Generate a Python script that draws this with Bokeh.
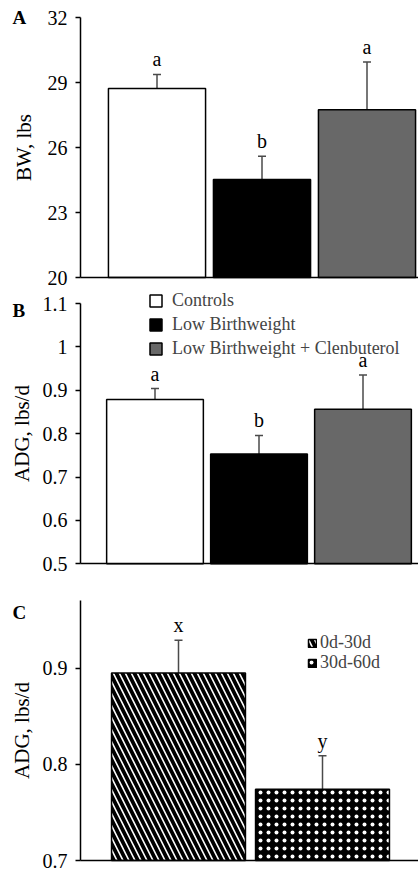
from bokeh.plotting import figure
from bokeh.models import (ColumnDataSource, Whisker, TeeHead, Label, Legend,
                          LegendItem, FixedTicker, Range1d, LinearAxis)
from bokeh.layouts import column
from bokeh.embed import file_html
from bokeh.resources import INLINE
from bokeh.core.properties import value

# ---------------- data ----------------
groups = ["Controls", "Low Birthweight", "Low Birthweight + Clenbuterol"]
group_colors = ["#ffffff", "#000000", "#686868"]

bw_mean = [28.72, 24.52, 27.74]
bw_err = [0.65, 1.08, 2.21]
bw_letters = ["a", "b", "a"]
bw_ticks = [20, 23, 26, 29, 32]
bw_tick_labels = ["20", "23", "26", "29", "32"]

adg_mean = [0.879, 0.753, 0.856]
adg_err = [0.025, 0.043, 0.079]
adg_letters = ["a", "b", "a"]
adg_ticks = [0.5, 0.6, 0.7, 0.8, 0.9, 1.0, 1.1]
adg_tick_labels = ["0.5", "0.6", "0.7", "0.8", "0.9", "1", "1.1"]

periods = ["0d-30d", "30d-60d"]
per_mean = [0.895, 0.774]
per_err = [0.034, 0.035]
per_letters = ["x", "y"]
per_ticks = [0.7, 0.8, 0.9]
per_tick_labels = ["0.7", "0.8", "0.9"]

FONT = "Liberation Serif"
W = 418
AXIS_PX = 80  # pixel column of the y axis


def make_fig(h, ymin, ymax, ytop_px, ybot_px, x1_px, px_per_x):
    """Frame covers the whole canvas; ranges chosen so that ymax sits at ytop_px,
    ymin at ybot_px and x=1 at x1_px."""
    ppu = (ybot_px - ytop_px) / (ymax - ymin)
    y_start = ymin - (h - ybot_px) / ppu
    y_end = ymax + ytop_px / ppu
    x_start = 1 - x1_px / px_per_x
    x_end = 1 + (W - x1_px) / px_per_x
    x_axis = 1 - (x1_px - AXIS_PX) / px_per_x
    p = figure(width=W, height=h, output_backend="svg", toolbar_location=None,
               x_range=Range1d(x_start, x_end), y_range=Range1d(y_start, y_end),
               x_axis_type=None, y_axis_type=None,
               min_border_left=0, min_border_right=0, min_border_top=0, min_border_bottom=0)
    p.outline_line_color = None
    return p, x_axis, x_end, ppu


def add_axes(p, x_axis, x_end, ymin, ymax, ticks, labels, label, label_standoff):
    ax = LinearAxis(fixed_location=x_axis, bounds=(ymin, ymax))
    ax.ticker = FixedTicker(ticks=ticks, minor_ticks=[])
    ax.major_label_overrides = {t: l for t, l in zip(ticks, labels)}
    ax.major_label_text_font = FONT
    ax.major_label_text_font_size = "20px"
    ax.major_label_text_color = "black"
    ax.major_label_standoff = 8
    ax.major_tick_out = 5
    ax.major_tick_in = 0
    ax.major_tick_line_width = 1.5
    ax.major_tick_line_color = "black"
    ax.minor_tick_line_color = None
    ax.axis_line_width = 1.5
    ax.axis_line_color = "black"
    ax.axis_label = label
    ax.axis_label_text_font = FONT
    ax.axis_label_text_font_style = "normal"
    ax.axis_label_text_font_size = "21px"
    ax.axis_label_text_color = "black"
    ax.axis_label_standoff = label_standoff
    p.add_layout(ax, "left")
    bx = LinearAxis(fixed_location=ymin, bounds=(x_axis, x_end))
    bx.ticker = FixedTicker(ticks=[], minor_ticks=[])
    bx.major_tick_line_color = None
    bx.minor_tick_line_color = None
    bx.axis_line_width = 1.5
    bx.axis_line_color = "black"
    bx.major_label_text_font_size = "0px"
    p.add_layout(bx, "below")


def err_and_letters(p, xs, means, errs, letters):
    src = ColumnDataSource(dict(x=xs, top=means, up=[m + e for m, e in zip(means, errs)],
                                lab=letters))
    w = Whisker(source=src, base="x", lower="top", upper="up", dimension="height",
                line_color="#4a4a4a", line_width=1.5,
                upper_head=TeeHead(size=8, line_color="#4a4a4a", line_width=1.5),
                lower_head=None)
    p.add_layout(w)
    p.text(x="x", y="up", text="lab", source=src, text_font=value(FONT),
           text_font_size="20px", text_align="center", text_baseline="alphabetic",
           y_offset=-15, text_color="black")


def panel_letter(p, x_axis, y, t):
    p.add_layout(Label(x=x_axis, y=y, x_offset=-68, text=t, text_font=FONT,
                       text_font_style="bold", text_font_size="19px",
                       text_baseline="middle", text_align="left", text_color="black"))


xs3 = [1, 2, 3]
xs2 = [1, 2]

# ---------------- Panel A ----------------
hA = 289
pA, axA, xeA, ppuA = make_fig(hA, 20, 32, 17, 277, 156.5, 105)
add_axes(pA, axA, xeA, 20, 32, bw_ticks, bw_tick_labels, "BW, lbs", 9)
pA.vbar(x=xs3, top=bw_mean, bottom=20, width=0.925, fill_color=group_colors,
        line_color="black", line_width=1.5)
err_and_letters(pA, xs3, bw_mean, bw_err, bw_letters)
panel_letter(pA, axA, 32, "A")

# ---------------- Panel B ----------------
hB = 291
pB, axB, xeB, ppuB = make_fig(hB, 0.5, 1.1, 14, 274.3, 154.5, 104)
add_axes(pB, axB, xeB, 0.5, 1.1, adg_ticks, adg_tick_labels, "ADG, lbs/d", 6)
items = []
for i, g in enumerate(groups):
    r = pB.vbar(x=[xs3[i]], top=[adg_mean[i]], bottom=0.5, width=0.93,
                fill_color=group_colors[i], line_color="black", line_width=1.5)
    items.append(LegendItem(label=g, renderers=[r]))
err_and_letters(pB, xs3, adg_mean, adg_err, adg_letters)
panel_letter(pB, axB, 1.1 - 7 / ppuB, "B")
legB = Legend(items=items, location=(148, 221), glyph_width=15, glyph_height=15,
              label_height=15, spacing=3, padding=0, margin=0, label_standoff=9,
              label_text_font=FONT, label_text_font_size="18px", border_line_color=None,
              background_fill_alpha=0)
pB.add_layout(legB, "center")

# ---------------- Panel C ----------------
hC = 292
pC, axC, xeC, ppuC = make_fig(hC, 0.7, 0.9, 87.7, 280, 178, 144)
add_axes(pC, axC, xeC, 0.7, 0.97, per_ticks, per_tick_labels, "ADG, lbs/d", 6)
rC1 = pC.vbar(x=[xs2[0]], top=[per_mean[0]], bottom=0.7, width=0.93, fill_color="white",
              line_color="black", line_width=1.5, hatch_pattern="\\", hatch_color="black",
              hatch_scale=12, hatch_weight=3.8)
rC2 = pC.vbar(x=[xs2[1]], top=[per_mean[1]], bottom=0.7, width=0.93, fill_color="black",
              line_color="black", line_width=1.5, hatch_pattern=".", hatch_color="white",
              hatch_scale=8, hatch_weight=0.5)
err_and_letters(pC, xs2, per_mean, per_err, per_letters)
panel_letter(pC, axC, 0.97 - 12 / ppuC, "C")
for k, (r, lab) in enumerate([(rC1, periods[0]), (rC2, periods[1])]):
    lg = Legend(items=[LegendItem(label=lab, renderers=[r])],
                location=(307, 219 - 20 * k), glyph_width=10, glyph_height=10,
                label_height=10, spacing=0, padding=0, margin=0, label_standoff=3,
                label_text_font=FONT, label_text_font_size="18px", border_line_color=None,
                background_fill_alpha=0)
    pC.add_layout(lg, "center")

layout = column(pA, pB, pC, spacing=0)
open("out.html", "w").write(file_html(layout, INLINE))
